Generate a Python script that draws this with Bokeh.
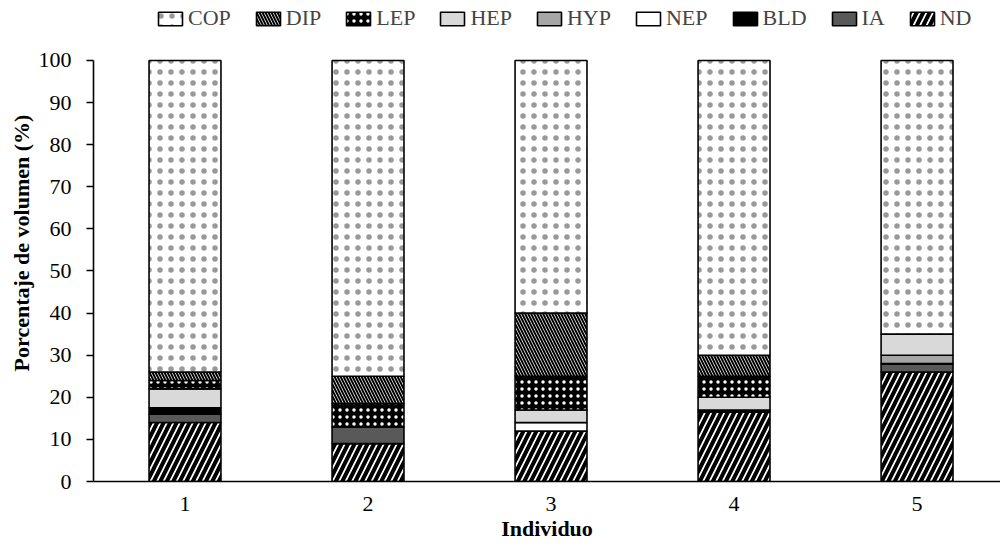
from bokeh.plotting import figure
from bokeh.models import Range1d, Legend, LegendItem, FixedTicker, ColumnDataSource
from bokeh.embed import file_html
from bokeh.resources import INLINE

individuals = [1, 2, 3, 4, 5]
tick_labels = ["1", "2", "3", "4", "5"]
y_ticks = list(range(0, 101, 10))
# stacked from bottom to top
ND  = [14.0, 9.0, 12.0, 16.5, 26.0]
IA  = [2.0, 4.0, 0.0, 0.0, 2.0]
BLD = [1.5, 0.0, 0.0, 0.5, 0.0]
NEP = [0.0, 0.0, 2.0, 0.0, 0.0]
HYP = [0.0, 0.0, 0.0, 0.0, 2.0]
HEP = [4.5, 0.0, 3.0, 3.0, 5.0]
LEP = [2.0, 5.5, 8.0, 5.0, 0.0]
DIP = [2.0, 6.5, 15.0, 5.0, 0.0]
COP = [74.0, 75.0, 60.0, 70.0, 65.0]

names = ["ND", "IA", "BLD", "NEP", "HYP", "HEP", "LEP", "DIP", "COP"]
data = dict(x=individuals, ND=ND, IA=IA, BLD=BLD, NEP=NEP, HYP=HYP,
            HEP=HEP, LEP=LEP, DIP=DIP, COP=COP)

styles = {
    "ND":  dict(fill_color="white", hatch_pattern="/", hatch_color="black", hatch_scale=13, hatch_weight=4, hatch_alpha=1.0),
    "IA":  dict(fill_color="#595959", hatch_pattern=None),
    "BLD": dict(fill_color="black", hatch_pattern=None),
    "NEP": dict(fill_color="white", hatch_pattern=None),
    "HYP": dict(fill_color="#a6a6a6", hatch_pattern=None),
    "HEP": dict(fill_color="#d9d9d9", hatch_pattern=None),
    "LEP": dict(fill_color="black", hatch_pattern=".", hatch_color="white", hatch_scale=7, hatch_weight=1, hatch_alpha=1.0),
    "DIP": dict(fill_color="white", hatch_pattern="\\", hatch_color="black", hatch_scale=6, hatch_weight=2, hatch_alpha=1.0),
    "COP": dict(fill_color="white", hatch_pattern=".", hatch_color="black", hatch_scale=11, hatch_weight=1, hatch_alpha=0.4),
}

p = figure(width=1000, height=546, output_backend="svg", toolbar_location=None,
           x_range=Range1d(0.5, 5.456), y_range=Range1d(0, 113.30),
           min_border_left=93, min_border_right=0, min_border_top=4, min_border_bottom=65)

renderers = {}
bottom = [0.0] * 5
for n in names:
    vals = data[n]
    top = [b + v for b, v in zip(bottom, vals)]
    st = styles[n]
    kw = dict(fill_color=st["fill_color"], line_color="black", line_width=1.6)
    if st["hatch_pattern"] is not None:
        kw.update(hatch_pattern=st["hatch_pattern"], hatch_color=st["hatch_color"],
                  hatch_scale=st["hatch_scale"], hatch_weight=st["hatch_weight"],
                  hatch_alpha=st["hatch_alpha"])
    src = ColumnDataSource(dict(x=individuals, bottom=bottom, top=top))
    r = p.vbar(x="x", bottom="bottom", top="top", width=0.393, source=src, **kw)
    renderers[n] = r
    bottom = top

legend_order = ["COP", "DIP", "LEP", "HEP", "HYP", "NEP", "BLD", "IA", "ND"]
legend = Legend(items=[LegendItem(label=n, renderers=[renderers[n]]) for n in legend_order],
                orientation="horizontal", location=(62, 450),
                label_text_font="Liberation Serif", label_text_font_size="22px",
                glyph_width=30, glyph_height=17, label_standoff=3, spacing=22,
                border_line_color=None, background_fill_alpha=0,
                padding=0, margin=0)
p.add_layout(legend, "center")

p.xgrid.visible = False
p.ygrid.visible = False
p.outline_line_color = None

p.xaxis.ticker = FixedTicker(ticks=individuals)
p.xaxis.major_label_overrides = {i: t for i, t in zip(individuals, tick_labels)}
p.xaxis.major_tick_line_color = None
p.xaxis.minor_tick_line_color = None
p.xaxis.axis_line_width = 1.6
p.xaxis.axis_label = "Individuo"
p.xaxis.major_label_standoff = 9
p.xaxis.axis_label_standoff = 2

p.yaxis.ticker = FixedTicker(ticks=y_ticks)
p.yaxis.bounds = (0, 100)
p.yaxis.minor_tick_line_color = None
p.yaxis.major_tick_out = 7
p.yaxis.major_tick_in = 0
p.yaxis.major_tick_line_width = 1.6
p.yaxis.axis_line_width = 1.6
p.yaxis.axis_label = "Porcentaje de volumen (%)"
p.yaxis.major_label_standoff = 15
p.yaxis.axis_label_standoff = 2

for ax in (p.xaxis, p.yaxis):
    ax.major_label_text_font = "Liberation Serif"
    ax.major_label_text_font_size = "22px"
    ax.major_label_text_color = "black"
    ax.axis_label_text_font = "Liberation Serif"
    ax.axis_label_text_font_size = "22px"
    ax.axis_label_text_font_style = "bold"
    ax.axis_label_text_color = "black"
    ax.axis_line_color = "black"

open("out.html", "w").write(file_html(p, INLINE))
